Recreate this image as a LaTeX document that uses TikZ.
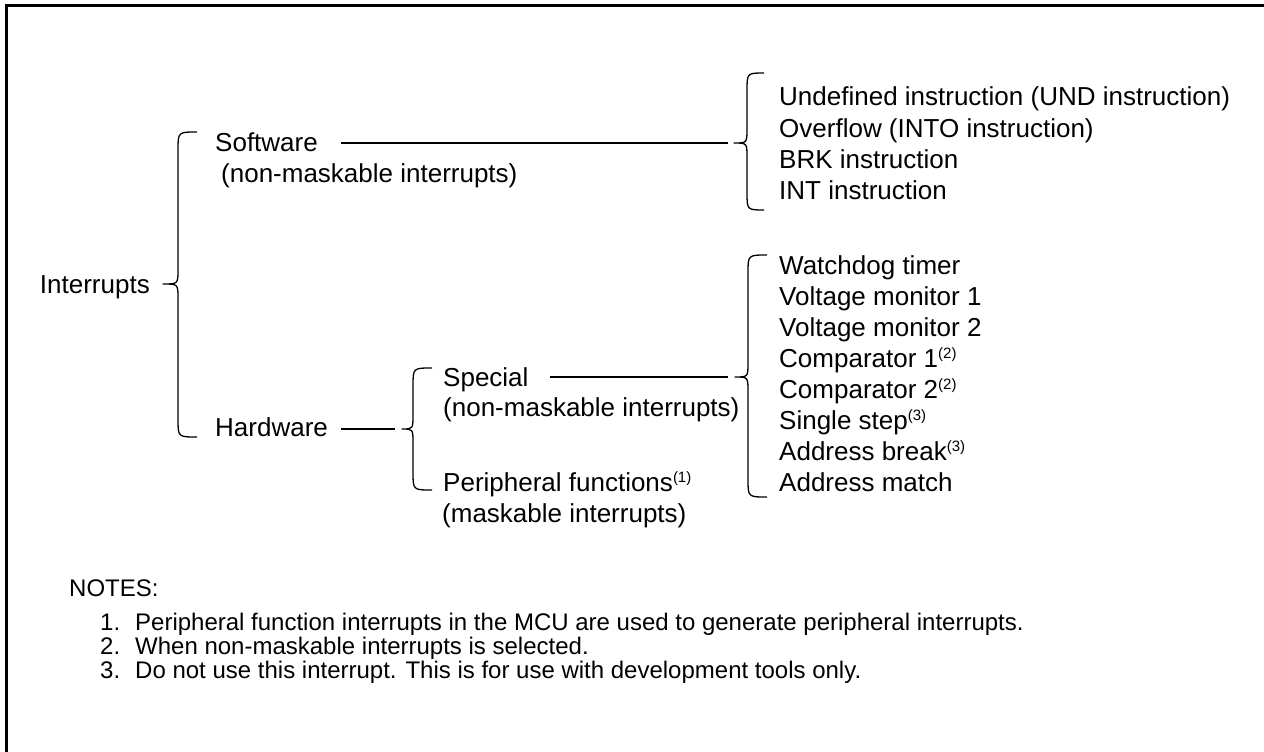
\documentclass[tikz,border=0pt]{standalone}
\usepackage{fontspec}
\setmainfont{Liberation Sans}
\newcommand{\fnref}[1]{\raisebox{8.5pt}{\fontsize{15}{15}\selectfont(#1)}}
\begin{document}
\begin{tikzpicture}[x=1pt,y=-1pt,
  lbl/.style={inner sep=0pt, anchor=base west, font=\fontsize{26}{31}\selectfont},
  notetxt/.style={inner sep=0pt, anchor=base west, font=\fontsize{24}{24}\selectfont},
  conn/.style={line width=1.3pt},
  bracepath/.style={line width=1.3pt, line join=round},
  frameline/.style={line width=3pt, line join=miter}]
\useasboundingbox (0,0) rectangle (1264,752);
% frame (top and left only)
\draw[frameline] (6.5,752) -- (6.5,5.5) -- (1264,5.5);

% level 0
\node[lbl, anchor=base east] (intr) at (150,293) {Interrupts};

% big brace
\coordinate (bigtip) at (163,284);
\draw[bracepath] (197,132) .. controls (178,132) .. (178,150) -- (178,270)
  .. controls (178,284) .. (bigtip) .. controls (178,284) .. (178,298)
  -- (178,419) .. controls (178,437) .. (197,437);

% level 1
\node[lbl] (sw) at (215,151) {Software};
\node[lbl] (swnm) at (221,182) {(non-maskable interrupts)};
\node[lbl] (hw) at (215,436) {Hardware};

% software connector and brace
\coordinate (swA) at (341,143);
\coordinate (swB) at (728,143);
\draw[conn] (swA) -- (swB);
\coordinate (swtip) at (734,143);
\draw[bracepath] (764,73) .. controls (747,73) .. (747,91) -- (747,129)
  .. controls (747,143) .. (swtip) .. controls (747,143) .. (747,157)
  -- (747,192) .. controls (747,210) .. (764,210);

% software list
\node[lbl] (s1) at (779,106) {Undefined instruction (UND instruction)};
\node[lbl] (s2) at (779,137) {Overflow (INTO instruction)};
\node[lbl] (s3) at (779,168) {BRK instruction};
\node[lbl] (s4) at (779,199) {INT instruction};

% hardware connector and brace
\coordinate (hwA) at (341,429);
\coordinate (hwB) at (395,429);
\draw[conn] (hwA) -- (hwB);
\coordinate (hwtip) at (402,429);
\draw[bracepath] (432,368) .. controls (413,368) .. (413,386) -- (413,415)
  .. controls (413,429) .. (hwtip) .. controls (413,429) .. (413,443)
  -- (413,472) .. controls (413,490) .. (432,490);

% level 2
\node[lbl] (sp) at (443,386) {Special};
\node[lbl] (spnm) at (443,416) {(non-maskable interrupts)};
\node[lbl] (pf) at (443,491) {Peripheral functions\fnref{1}};
\node[lbl] (pfm) at (442,522) {(maskable interrupts)};

% special connector and brace
\coordinate (spA) at (550,377);
\coordinate (spB) at (728,377);
\draw[conn] (spA) -- (spB);
\coordinate (sptip) at (735,377);
\draw[bracepath] (767,255) .. controls (748,255) .. (748,273) -- (748,363)
  .. controls (748,377) .. (sptip) .. controls (748,377) .. (748,391)
  -- (748,479) .. controls (748,497) .. (767,497);

% special list
\node[lbl] (h1) at (779,274) {Watchdog timer};
\node[lbl] (h2) at (779,305) {Voltage monitor 1};
\node[lbl] (h3) at (779,336) {Voltage monitor 2};
\node[lbl] (h4) at (779,367) {Comparator 1\fnref{2}};
\node[lbl] (h5) at (779,398) {Comparator 2\fnref{2}};
\node[lbl] (h6) at (779,429) {Single step\fnref{3}};
\node[lbl] (h7) at (779,460) {Address break\fnref{3}};
\node[lbl] (h8) at (779,491) {Address match};

% notes
\node[notetxt] (notes) at (69,596) {NOTES:};
\node[notetxt] (n1) at (100,630) {1.};
\node[notetxt] (n1t) at (135,630) {Peripheral function interrupts in the MCU are used to generate peripheral interrupts.};
\node[notetxt] (n2) at (100,654) {2.};
\node[notetxt] (n2t) at (135,654) {When non-maskable interrupts is selected.};
\node[notetxt] (n3) at (100,678) {3.};
\node[notetxt] (n3t) at (135,678) {Do not use this interrupt. This is for use with development tools only.};
\end{tikzpicture}
\end{document}
